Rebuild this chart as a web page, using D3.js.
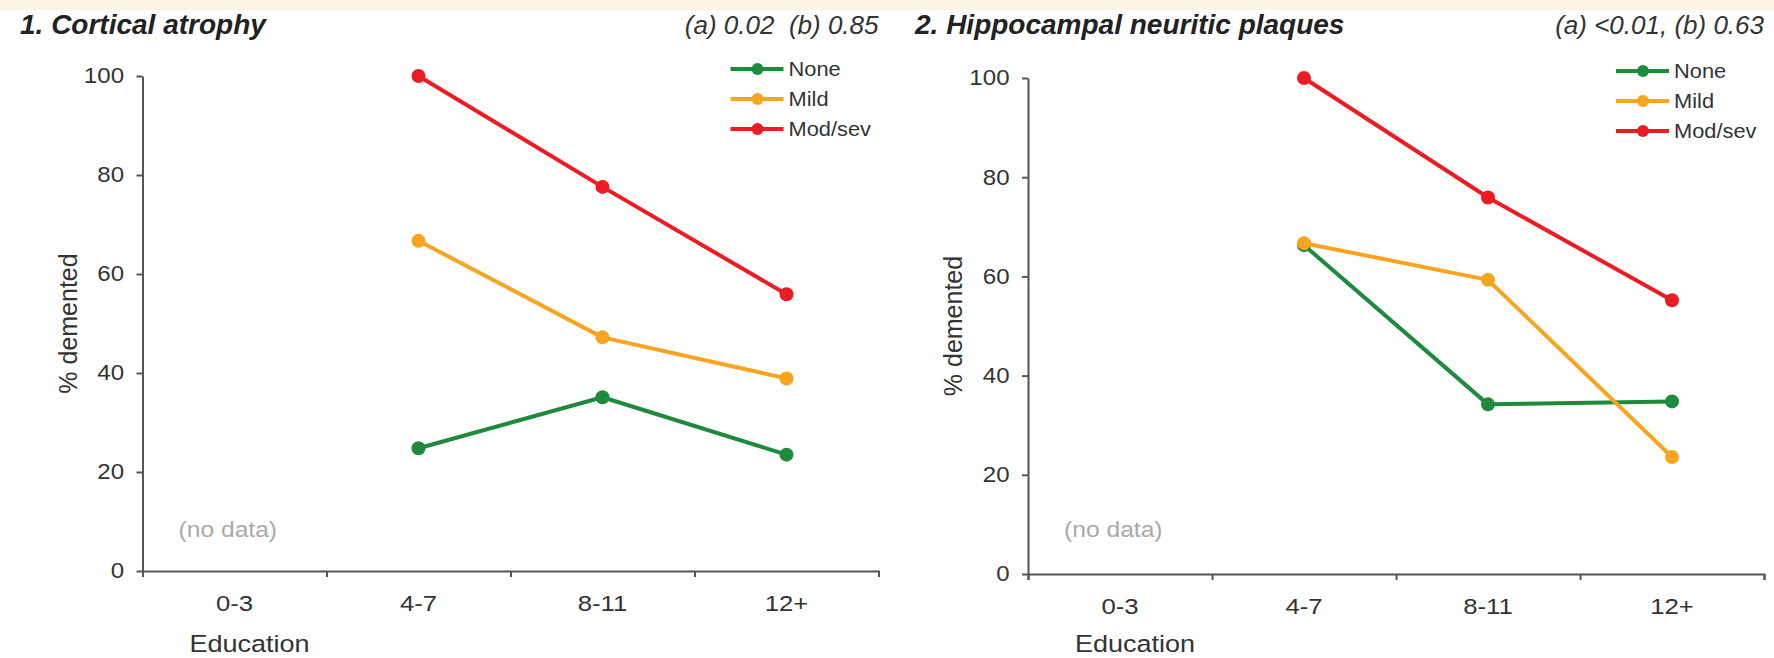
<html>

<head>
    <script src="https://d3js.org/d3.v7.min.js"></script>
</head>

<body style="margin:0;background:white">
    <svg></svg>
    <script>
        // categories and series
        const categories = ["0-3", "4-7", "8-11", "12+"]
        const seriesNames = ["None", "Mild", "Mod/sev"]
        const yTicks = [0, 20, 40, 60, 80, 100]

        // 1. cortical atrophy (% demented), no data for 0-3
        const atrophyNone = [null, 24.8, 35.1, 23.5]
        const atrophyMild = [null, 66.7, 47.2, 38.9]
        const atrophySevere = [null, 100, 77.6, 55.9]

        // 2. hippocampal neuritic plaques
        const plaquesNone = [null, 66.3, 34.2, 34.8]
        const plaquesMild = [null, 66.7, 59.3, 23.6]
        const plaquesSevere = [null, 100, 75.9, 55.2]

        const titles = ["1. Cortical atrophy", "2. Hippocampal neuritic plaques"]
        const pValues = ["(a) 0.02  (b) 0.85", "(a) <0.01, (b) 0.63"]

        // styling
        const colors = ["#1e8a3c", "#f7a520", "#ec1c24"]
        const axisColor = "#555"
        const textColor = "#333"
        const font = "'Liberation Sans', Arial, sans-serif"
        const sx = 1.12 // source text is a bit wider than Arial

        const width = 1774
        const height = 658

        const panels = [
            { left: 142.5, right: 878.5, bottom: 571, top: 76, titleX: 20, series: [atrophyNone, atrophyMild, atrophySevere] },
            { left: 1028, right: 1764, bottom: 574, top: 78, titleX: 915, series: [plaquesNone, plaquesMild, plaquesSevere] }
        ]

        const svg = d3.select("svg")
            .attr("width", width)
            .attr("height", height)
            .attr("viewBox", [0, 0, width, height])
            .style("font-family", font)

        // faint strip along the top edge
        svg.append("rect")
            .attr("width", width)
            .attr("height", 10)
            .attr("fill", "#fbf5e8")

        panels.forEach((p, k) => {
            const x = d3.scaleBand().domain(categories).range([p.left, p.right])
            const xEdge = d3.scaleLinear([0, categories.length], [p.left, p.right])
            const y = d3.scaleLinear([0, 100], [p.bottom, p.top])
            const cx = i => x(categories[i]) + x.bandwidth() / 2

            const g = svg.append("g")

            // y axis
            g.append("g")
                .attr("transform", `translate(${p.left},0)`)
                .call(d3.axisLeft(y).tickValues(yTicks).tickSize(6).tickSizeOuter(0).tickPadding(10.5))
                .call(a => a.select(".domain").attr("stroke", axisColor).attr("stroke-width", 2))
                .call(a => a.selectAll(".tick line").attr("stroke", axisColor).attr("stroke-width", 2))
                .call(a => a.selectAll(".tick text")
                    .attr("font-family", font).attr("font-size", 21.5).attr("fill", textColor)
                    .attr("transform", `scale(${sx},1)`))

            // x axis: band edges with small ticks
            g.append("g")
                .attr("transform", `translate(0,${p.bottom})`)
                .call(d3.axisBottom(xEdge).ticks(categories.length).tickSize(6).tickFormat(""))
                .call(a => a.select(".domain").attr("stroke", axisColor).attr("stroke-width", 2))
                .call(a => a.selectAll(".tick line").attr("stroke", axisColor).attr("stroke-width", 2))

            // x axis labels at band centres
            g.append("g")
                .attr("transform", `translate(0,${p.bottom})`)
                .call(d3.axisBottom(x).tickSize(0).tickPadding(24))
                .call(a => a.select(".domain").remove())
                .call(a => a.selectAll(".tick text")
                    .attr("font-family", font).attr("font-size", 23).attr("fill", textColor)
                    .attr("transform", `scale(${sx},1)`))

            // axis titles
            g.append("text")
                .attr("transform", `translate(${p.left + 107},652) scale(1.15,1)`)
                .attr("text-anchor", "middle")
                .attr("font-size", 23.5)
                .attr("fill", textColor)
                .text("Education")

            g.append("text")
                .attr("transform", `translate(${p.left - 66},${(p.top + p.bottom) / 2}) rotate(-90)`)
                .attr("text-anchor", "middle")
                .attr("font-size", 25)
                .attr("fill", textColor)
                .text("% demented")

            // panel title and p-values
            g.append("text")
                .attr("x", p.titleX)
                .attr("y", 34)
                .attr("font-size", 28)
                .attr("font-weight", "bold")
                .attr("font-style", "italic")
                .attr("fill", "#222")
                .text(titles[k])

            g.append("text")
                .attr("x", p.right)
                .attr("y", 34)
                .attr("text-anchor", "end")
                .attr("font-size", 26)
                .attr("font-style", "italic")
                .attr("fill", textColor)
                .style("white-space", "pre")
                .text(pValues[k])

            // no data note in the first band
            g.append("text")
                .attr("transform", `translate(${p.left + 36},537) scale(${sx},1)`)
                .attr("font-size", 22)
                .attr("fill", "#aaa")
                .text("(no data)")

            // series lines and points
            const line = d3.line()
                .defined(v => v != null)
                .x((v, i) => cx(i))
                .y(v => y(v))

            p.series.forEach((values, s) => {
                g.append("path")
                    .attr("fill", "none")
                    .attr("stroke", colors[s])
                    .attr("stroke-width", 4)
                    .attr("stroke-linejoin", "round")
                    .attr("d", line(values))

                g.append("g")
                    .selectAll("circle")
                    .data(values.map((v, i) => ({ v, i })).filter(d => d.v != null))
                    .join("circle")
                    .attr("cx", d => cx(d.i))
                    .attr("cy", d => y(d.v))
                    .attr("r", 7)
                    .attr("fill", colors[s])
            })

            // legend
            const legend = g.append("g")
                .attr("transform", `translate(${p.right - 148},${p.top - 7})`)
            seriesNames.forEach((name, s) => {
                const row = legend.append("g").attr("transform", `translate(0,${s * 30})`)
                row.append("line")
                    .attr("x1", 0).attr("x2", 53)
                    .attr("stroke", colors[s]).attr("stroke-width", 4)
                row.append("circle")
                    .attr("cx", 27).attr("r", 6)
                    .attr("fill", colors[s])
                row.append("text")
                    .attr("transform", `translate(58,0) scale(${sx},1)`)
                    .attr("dy", "0.35em")
                    .attr("font-size", 19.5)
                    .attr("fill", textColor)
                    .text(name)
            })
        })
    </script>
</body>

</html>
